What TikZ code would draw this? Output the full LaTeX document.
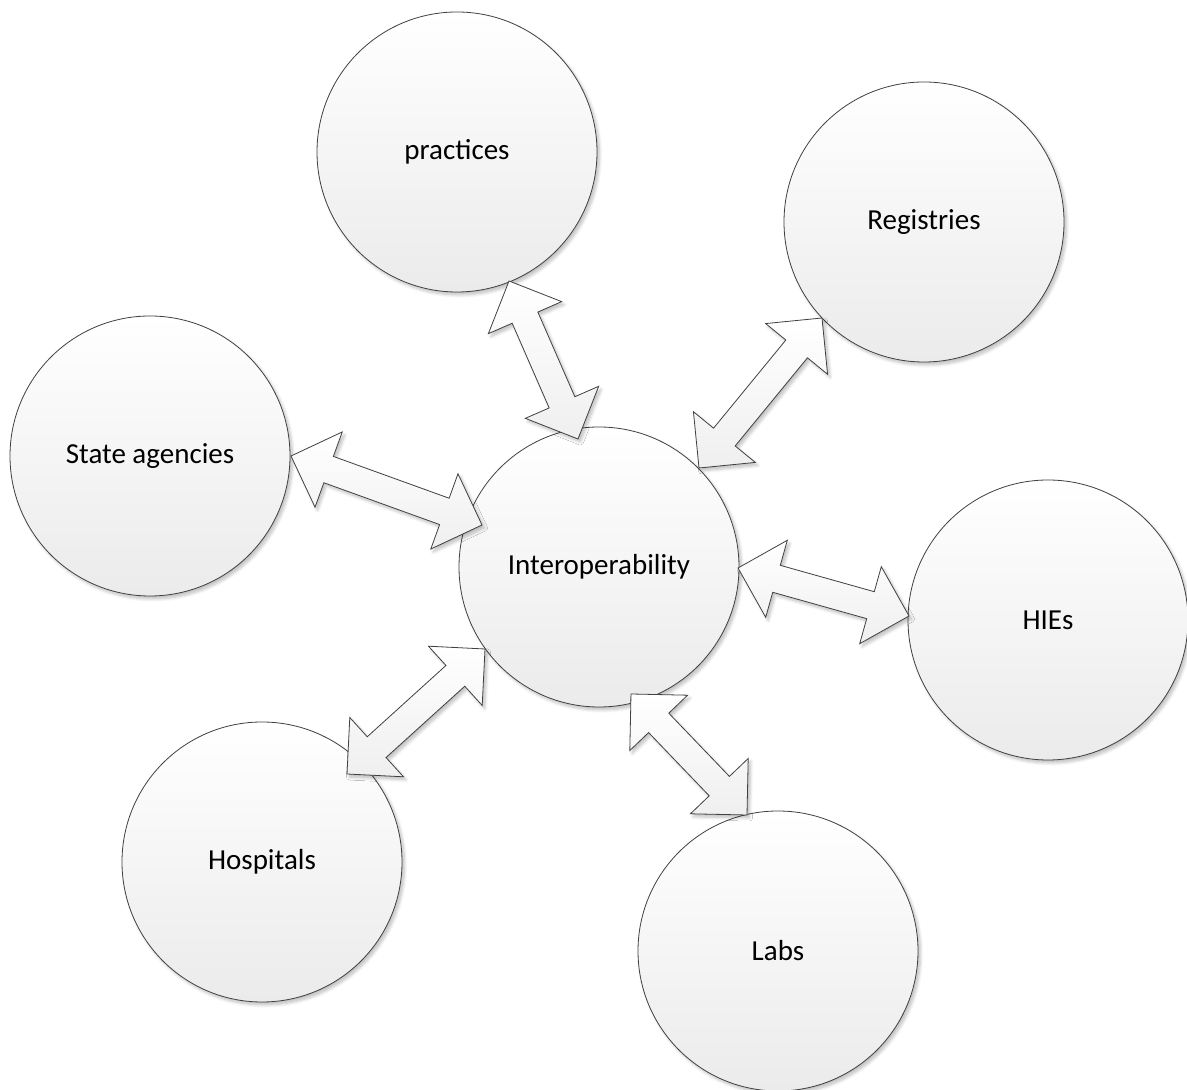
\documentclass[tikz,border=0pt]{standalone}
\usepackage{fontspec}
\setmainfont{Carlito}
\usetikzlibrary{calc,shadows.blur}

\definecolor{edgegray}{HTML}{404040}
\definecolor{fillbot}{HTML}{EBEBEB}

\tikzset{
  hub/.style={circle, draw=edgegray, line width=0.8pt, minimum size=280pt,
    inner sep=0pt, outer sep=0pt, top color=white, bottom color=fillbot,
    blur shadow={shadow xshift=2.5pt, shadow yshift=-3pt, shadow blur steps=6,
      shadow blur radius=3pt, shadow opacity=25},
    font=\fontsize{29}{35}\selectfont},
  linkshape/.style={draw=edgegray, line width=0.8pt, line join=miter,
    top color=white, bottom color=fillbot!80!white,
    blur shadow={shadow xshift=2.5pt, shadow yshift=-3pt, shadow blur steps=6,
      shadow blur radius=3pt, shadow opacity=25}}
}

% double-headed block arrow from tip #1 to tip #2
\newcommand\linkarrow[2]{%
  \coordinate (hA) at ($(#1)!40pt!(#2)$);
  \coordinate (hB) at ($(#2)!40pt!(#1)$);
  \path[linkshape] (#1)
    -- ($(hA)!40pt!90:(#2)$) -- ($(hA)!14pt!90:(#2)$)
    -- ($(hB)!14pt!-90:(#1)$) -- ($(hB)!40pt!-90:(#1)$)
    -- (#2)
    -- ($(hB)!40pt!90:(#1)$) -- ($(hB)!14pt!90:(#1)$)
    -- ($(hA)!14pt!-90:(#2)$) -- ($(hA)!40pt!-90:(#2)$)
    -- cycle;}

\begin{document}
\begin{tikzpicture}[x=1pt,y=1pt]
\useasboundingbox (0,0) rectangle (1187,1090);

% the seven circles
\node[hub] (practices)  at (457,938) {practices};
\node[hub] (registries) at (924,868) {Registries};
\node[hub] (state)      at (150,634) {State agencies};
\node[hub] (interop)    at (599,523) {Interoperability};
\node[hub] (hies)       at (1048,470) {HIEs};
\node[hub] (hospitals)  at (262,228) {Hospitals};
\node[hub] (labs)       at (778,139) {Labs};

% arrow tips on the circle rims
\coordinate (pO) at ($(practices.center)+(52,-129)$);
\coordinate (pI) at ($(interop.center)+(-21,128)$);
\coordinate (rO) at ($(registries.center)+(-102,-96)$);
\coordinate (rI) at ($(interop.center)+(100,99)$);
\coordinate (sO) at ($(state.center)+(141,0)$);
\coordinate (sI) at ($(interop.center)+(-117,42)$);
\coordinate (hO) at ($(hies.center)+(-139,4)$);
\coordinate (hI) at ($(interop.center)+(139,-1)$);
\coordinate (qO) at ($(hospitals.center)+(85,88)$);
\coordinate (qI) at ($(interop.center)+(-114,-82)$);
\coordinate (lO) at ($(labs.center)+(-31,136)$);
\coordinate (lI) at ($(interop.center)+(32,-127)$);

% connectors
\linkarrow{pO}{pI}
\linkarrow{rO}{rI}
\linkarrow{sO}{sI}
\linkarrow{hO}{hI}
\linkarrow{qO}{qI}
\linkarrow{lO}{lI}
\end{tikzpicture}
\end{document}
